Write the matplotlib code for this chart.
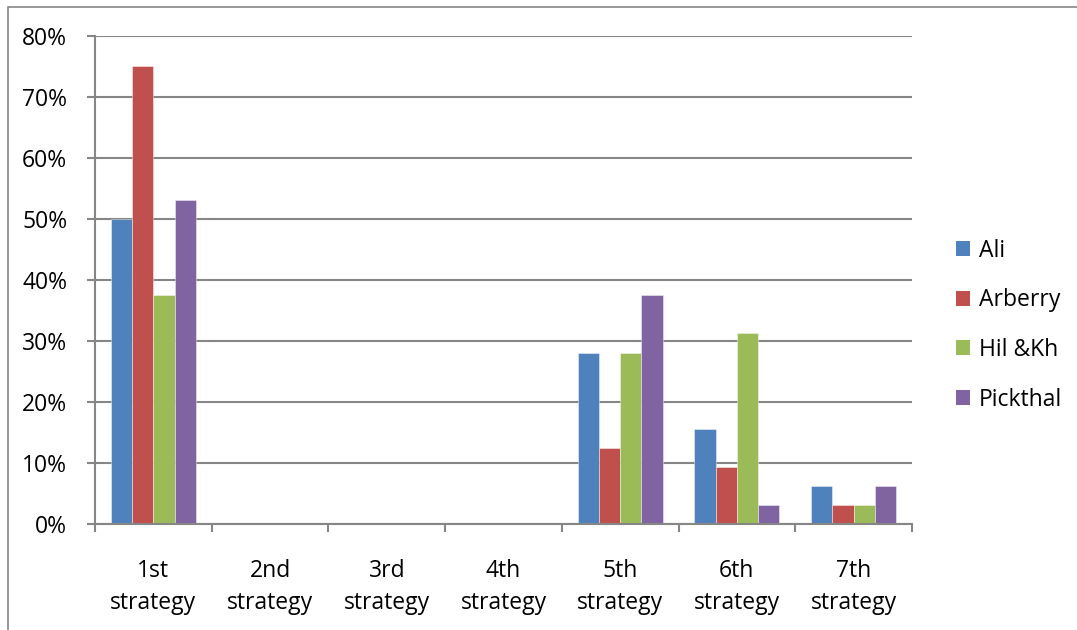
import matplotlib.pyplot as plt
from matplotlib.patches import Rectangle, Patch
import numpy as np

# share of each strategy per translator
strategies = ["1st\nstrategy", "2nd\nstrategy", "3rd\nstrategy", "4th\nstrategy",
              "5th\nstrategy", "6th\nstrategy", "7th\nstrategy"]
ali = [50.0, 0, 0, 0, 28.1, 15.6, 6.25]
arberry = [75.0, 0, 0, 0, 12.5, 9.4, 3.1]
hil_kh = [37.5, 0, 0, 0, 28.1, 31.25, 3.1]
pickthal = [53.1, 0, 0, 0, 37.5, 3.1, 6.25]

series = [("Ali", ali, "#4F81BD"),
          ("Arberry", arberry, "#C0504D"),
          ("Hil &Kh", hil_kh, "#9BBB59"),
          ("Pickthal", pickthal, "#8064A2")]

plt.rcParams['font.family'] = ['Open Sans', 'DejaVu Sans']
grey = '#868686'
fs = 16.5

fig = plt.figure(figsize=(10.77, 6.3), dpi=100)
ax = fig.add_axes([0.0882, 0.1683, 0.7586, 0.7746])

# outer chart frame
fig.patches.append(Rectangle((8 / 1077, -0.1), 1.2, 1 - 7 / 630 + 0.1,
                             transform=fig.transFigure, fill=False,
                             edgecolor=grey, linewidth=1.2))

x = np.arange(len(strategies))
width = 1 / 5.5
for i, (name, vals, col) in enumerate(series):
    ax.bar(x + (i - 1.5) * width, vals, width, color=col,
           edgecolor=(1, 1, 1, 0.5), linewidth=0.6, label=name, zorder=3)

ax.set_xlim(-0.5, len(strategies) - 0.5)
ax.set_ylim(0, 80)
ax.set_yticks(range(0, 81, 10))
ax.set_yticklabels([f"{v}%" for v in range(0, 81, 10)], fontsize=fs)
ax.yaxis.grid(True, color=grey, linewidth=1.5, zorder=0)

# category ticks sit on the boundaries, labels in the middle
ax.set_xticks(np.arange(-0.5, len(strategies)), minor=False)
ax.set_xticklabels([])
ax.set_xticks(x, minor=True)
ax.set_xticklabels(strategies, minor=True, fontsize=fs, linespacing=1.45)
ax.tick_params(axis='x', which='minor', length=0, pad=25)
ax.tick_params(axis='x', which='major', length=6, width=1.5, color=grey, direction='out')
ax.tick_params(axis='y', length=6, width=1.5, color=grey, pad=14)

for s in ['top', 'right']:
    ax.spines[s].set_visible(False)
for s in ['left', 'bottom']:
    ax.spines[s].set_color(grey)
    ax.spines[s].set_linewidth(1.5)
    ax.spines[s].set_zorder(4)

handles = [Patch(facecolor=c, edgecolor='none') for _, _, c in series]
ax.legend(handles, [n for n, _, _ in series], loc='center left',
          bbox_to_anchor=(935 / 1077, 0.484), bbox_transform=fig.transFigure,
          frameon=False, fontsize=fs, handlelength=0.62, handleheight=0.62,
          handletextpad=0.4, labelspacing=1.12)

fig.savefig("out.png", dpi=100)
